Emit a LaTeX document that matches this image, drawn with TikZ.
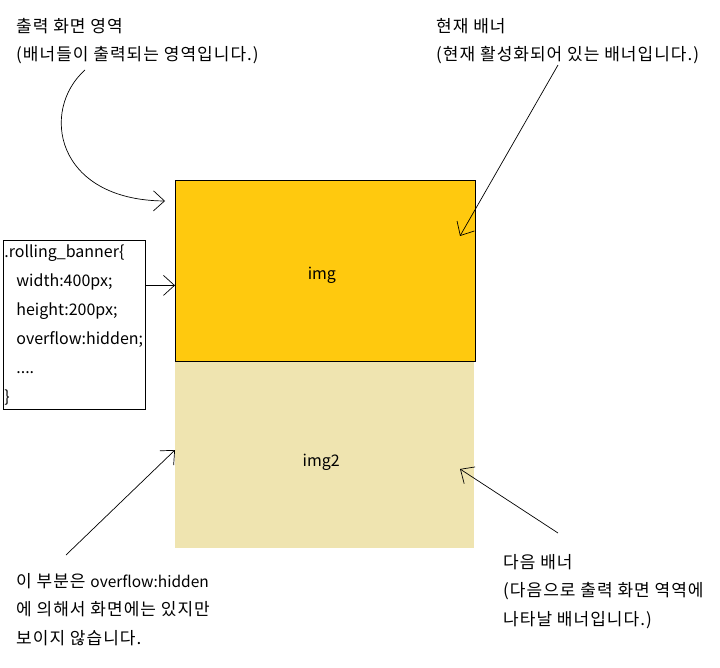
\documentclass[tikz,border=0pt]{standalone}
\usepackage{fontspec}
\setmainfont{Noto Sans CJK KR}
\newfontfamily\hangulfont[LetterSpace=6]{Noto Sans CJK KR}
\newfontfamily\latinfont{Noto Sans CJK KR}
\newcommand\latinpart[1]{{\latinfont\fontsize{15.5}{28.5}\selectfont #1}}
\newcommand\lowered[2]{\kern-7pt\raisebox{-#1}[\height][\depth]{#2}}
\usetikzlibrary{arrows.meta,positioning,calc}
\definecolor{gold}{HTML}{FFC90E}
\definecolor{sand}{HTML}{EFE4B0}
\tikzset{
  base/.style={font=\fontsize{16}{29}\selectfont,align=left,inner sep=0pt},
  banner/.style={base,align=center,fill=gold,draw=black,line width=0.8pt,minimum width=300pt,minimum height=181pt,anchor=north west},
  hidden/.style={base,align=center,fill=sand,minimum width=299pt,minimum height=187pt,anchor=north west},
  code/.style={base,draw=black,line width=0.8pt,text width=140pt,minimum height=169pt,inner xsep=1pt,anchor=north west},
  note/.style={base,font=\hangulfont\fontsize{17}{28.5}\selectfont,anchor=north west},
  pointer/.style={-{Straight Barb[length=11pt,width=20pt]},line width=0.7pt,draw=black}
}
\begin{document}
\begin{tikzpicture}[x=1pt,y=-1pt]
\useasboundingbox[fill=white] (0,0) rectangle (720,668);
\node[hidden] (nextbanner) at (175,361) {\lowered{8pt}{img2}};
\node[banner] (nowbanner) at (175,180) {\lowered{4pt}{img}};
\node[code] (css) at (3,240) {.rolling\_banner\{\\\hspace*{12pt}width:400px;\\\hspace*{12pt}height:200px;\\\hspace*{12pt}overflow:hidden;\\\hspace*{12pt}....\\\}};

\node[note] (arealabel) at (16,18) {출력 화면 영역\\(배너들이 출력되는 영역입니다.)};
\node[note] (nowlabel) at (436,18) {현재 배너\\(현재 활성화되어 있는 배너입니다.)};
\node[note] (hiddenlabel) at (16,573) {이 부분은 \latinpart{overflow:hidden}\\에 의해서 화면에는 있지만\\보이지 않습니다.};
\node[note] (nextlabel) at (503,554) {다음 배너\\(다음으로 출력 화면 역역에\\나타날 배너입니다.)};

\coordinate (areatail) at (85,70);
\coordinate (areatip) at ($(nowbanner.north west)+(-10,21)$);
\coordinate (nowtail) at (558,65);
\coordinate (nowtip) at (460,236);
\coordinate (hiddentail) at (66,555);
\coordinate (hiddentip) at ($(nextbanner.north west)+(0,89)$);
\coordinate (nexttail) at (558,533);
\coordinate (nexttip) at (460,469);

\draw[pointer] (areatail) .. controls (40,110) and (55,200) .. (areatip);
\draw[pointer] (nowtail) -- (nowtip);
\draw[pointer] ([yshift=39.5pt]css.east) -- ([yshift=39.5pt]css.east -| nowbanner.west);
\draw[pointer] (hiddentail) -- (hiddentip);
\draw[pointer] (nexttail) -- (nexttip);
\end{tikzpicture}
\end{document}
